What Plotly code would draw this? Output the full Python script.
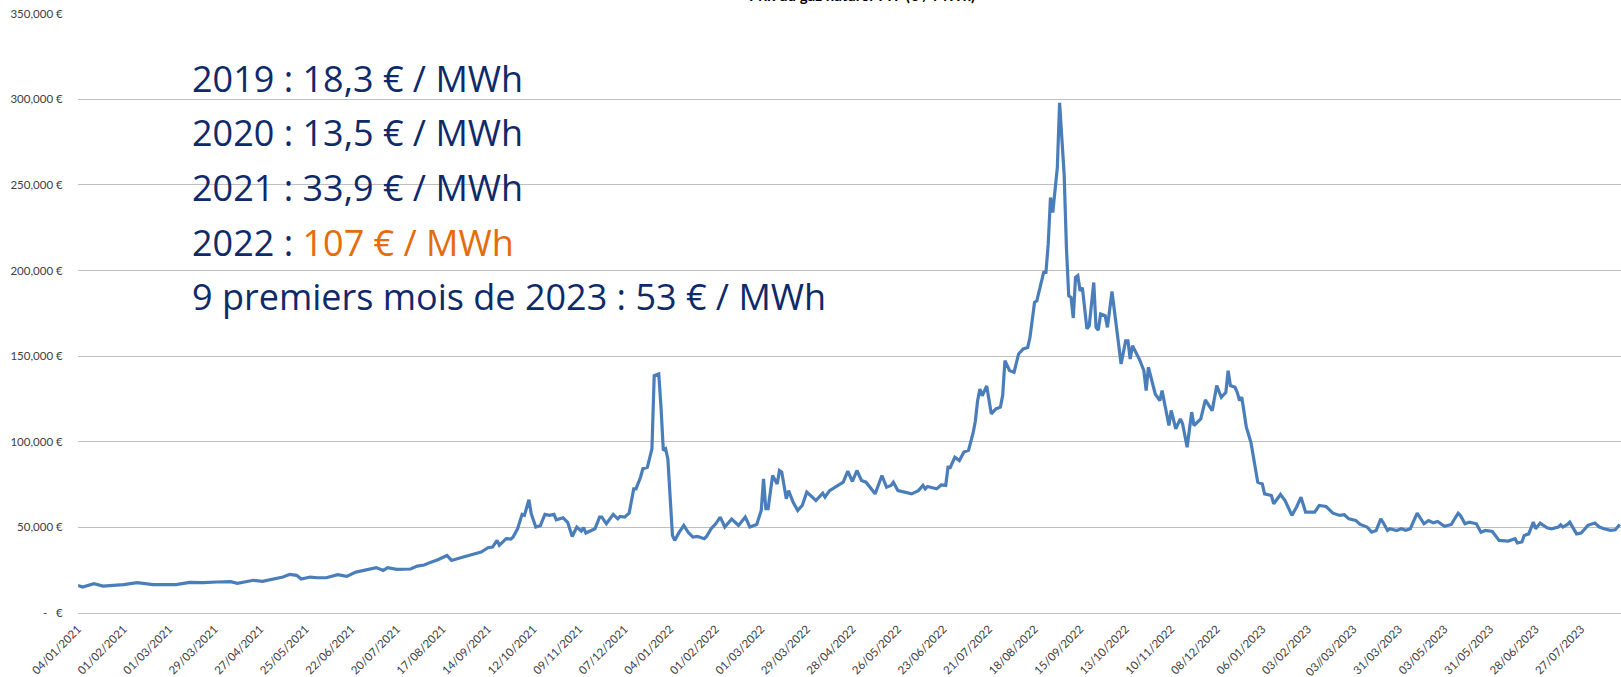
import plotly.graph_objects as go

# Trading-day index (one category per quoted day) and price (k€)
day = [0, 2, 7, 11, 20, 26, 33, 43, 49, 55, 61, 67, 70, 77, 81, 86, 90, 93, 96, 98,
       102, 105, 109, 114, 118, 122, 128, 131, 134, 136, 140, 146, 149, 152, 155, 158,
       162, 164, 168, 172, 177, 180, 182, 184, 185, 188, 190, 191, 193, 195, 196, 198,
       199, 201, 203, 205, 207, 209, 210, 213, 215, 217, 219, 221, 222, 223, 226, 227,
       229, 230, 232, 235, 237, 238, 240, 242, 244, 245, 247, 248, 250, 251, 252, 253,
       255, 256, 257, 258, 259, 261, 262, 264, 266, 268, 270, 272, 275, 276, 278, 280,
       282, 284, 287, 290, 293, 295, 298, 300, 301, 302, 303, 305, 307, 308, 309, 311,
       312, 314, 316, 318, 320, 324, 327, 328, 330, 336, 338, 340, 342, 344, 346, 350,
       353, 355, 357, 358, 360, 363, 366, 369, 371, 372, 373, 377, 379, 381, 382, 383,
       385, 387, 389, 391, 392, 393, 394, 395, 396, 397, 399, 401, 403, 405, 406, 407,
       409, 411, 413, 415, 417, 418, 420, 421, 424, 425, 426, 427, 428, 430, 431, 433,
       434, 435, 436, 437, 438, 439, 440, 441, 443, 444, 446, 447, 448, 449, 451, 452,
       454, 456, 458, 460, 461, 462, 463, 466, 468, 469, 470, 473, 475, 476, 479, 480,
       482, 484, 485, 487, 489, 490, 493, 495, 498, 500, 502, 504, 505, 506, 508, 509,
       510, 511, 513, 515, 517, 518, 520, 521, 524, 525, 528, 530, 531, 533, 535, 537,
       539, 543, 545, 548, 551, 554, 556, 558, 561, 563, 566, 568, 570, 572, 573, 575,
       576, 579, 581, 583, 585, 588, 591, 593, 595, 597, 600, 603, 604, 606, 607, 609,
       611, 614, 616, 618, 621, 624, 628, 629, 631, 632, 634, 635, 637, 639, 640, 642,
       645, 647, 650, 651, 652, 654, 655, 658, 660, 663, 666, 668, 670, 673, 675, 677]

price_k = [16.1, 15.2, 17.1, 15.7, 16.6, 17.7, 16.6, 16.6, 17.9, 17.7, 18.1, 18.3, 17.3, 19.1, 18.5, 20.0, 21.0, 22.6, 22.0, 19.8,
           21.0, 20.6, 20.6, 22.4, 21.4, 23.9, 25.9, 26.5, 24.9, 26.5, 25.5, 25.7, 27.4, 28.0, 29.7, 31.1,
           33.6, 30.7, 32.3, 33.6, 35.6, 38.1, 38.5, 42.4, 39.5, 43.4, 43.2, 44.3, 49.2, 57.6, 57.0, 66.1,
           58.0, 50.2, 51.0, 57.6, 57.0, 57.6, 54.4, 55.6, 53.0, 44.7, 50.2, 47.8, 49.8, 46.7, 48.3, 49.2,
           56.0, 56.0, 52.1, 57.6, 55.0, 56.4, 56.0, 58.3, 72.5, 72.5, 79.3, 84.2, 85.1, 91.0, 95.9, 138.6,
           139.6, 120.0, 94.9, 95.9, 90.0, 45.3, 42.4, 47.2, 51.1, 47.0, 44.3, 44.7, 43.4, 44.7, 49.2, 52.1,
           56.0, 50.2, 54.9, 51.1, 56.0, 50.2, 51.7, 59.9, 78.4, 60.9, 60.9, 80.3, 75.4, 83.2, 82.3, 66.7,
           71.5, 64.7, 59.9, 62.8, 70.6, 65.7, 70.0, 67.7, 71.5, 76.4, 82.8, 76.8, 83.2, 77.4, 76.4, 69.6,
           80.3, 73.5, 74.5, 76.4, 71.5, 70.6, 69.6, 71.5, 74.5, 72.5, 73.9, 72.5, 74.8, 74.5, 85.1, 85.0,
           91.0, 89.0, 94.0, 95.0, 100.0, 105.0, 112.0, 124.0, 130.8, 126.9, 132.6, 116.3, 119.2, 120.2, 127.0, 147.4,
           141.6, 140.6, 151.3, 154.2, 155.1, 161.0, 181.4, 182.3, 198.9, 198.9, 215.4, 242.6, 233.9, 260.1, 298.0, 256.2,
           213.4, 185.3, 184.3, 172.3, 196.0, 197.0, 188.1, 190.0, 165.9, 167.7, 193.0, 166.8, 165.2, 174.6, 173.6, 166.8,
           187.8, 166.8, 145.4, 159.0, 159.0, 148.3, 156.1, 148.3, 141.6, 129.9, 143.5, 127.9, 124.0, 129.9, 109.5, 118.3,
           107.6, 113.4, 110.5, 96.8, 117.3, 109.5, 113.4, 124.4, 118.2, 132.8, 126.0, 128.9, 141.5, 132.8, 131.8, 128.9,
           124.0, 126.0, 108.5, 99.7, 85.1, 76.4, 75.4, 69.6, 68.6, 63.8, 69.2, 65.7, 62.8, 57.0, 61.8, 67.6,
           58.9, 58.9, 62.8, 62.2, 58.3, 57.0, 57.4, 55.0, 54.1, 51.7, 50.2, 47.2, 48.2, 55.0, 53.0, 48.2,
           49.2, 48.2, 49.2, 48.3, 49.2, 58.3, 52.1, 54.0, 52.7, 53.5, 50.6, 51.7, 54.0, 58.3, 57.0, 52.1,
           53.1, 52.1, 47.2, 48.2, 47.6, 42.4, 42.0, 42.4, 43.4, 40.9, 41.5, 45.3, 46.2, 53.1, 49.2, 52.5,
           49.8, 49.2, 50.2, 51.5, 50.2, 51.7, 53.1, 46.2, 46.7, 51.2, 52.5, 50.2, 49.2, 48.3, 48.6, 51.7]

price = [v * 1000 for v in price_k]

date_labels = ["04/01/2021", "01/02/2021", "01/03/2021", "29/03/2021", "27/04/2021", "25/05/2021",
               "22/06/2021", "20/07/2021", "17/08/2021", "14/09/2021", "12/10/2021", "09/11/2021",
               "07/12/2021", "04/01/2022", "01/02/2022", "01/03/2022", "29/03/2022", "28/04/2022",
               "26/05/2022", "23/06/2022", "21/07/2022", "18/08/2022", "15/09/2022", "13/10/2022",
               "10/11/2022", "08/12/2022", "06/01/2023", "03/02/2023", "03//03/2023", "31/03/2023",
               "03/05/2023", "31/05/2023", "28/06/2023", "27/07/2023"]
label_step = 20  # one label every 20 quoted days

y_ticks = [0, 50000, 100000, 150000, 200000, 250000, 300000, 350000]
y_labels = ["-   €", "50,000 €", "100,000 €", "150,000 €", "200,000 €", "250,000 €", "300,000 €", "350,000 €"]

notes = ["2019 : 18,3 € / MWh",
         "2020 : 13,5 € / MWh",
         "2021 : 33,9 € / MWh",
         "2022 : <span style='color:#E46C0A'>107 € / MWh</span>",
         "9 premiers mois de 2023 : 53 € / MWh"]

fig = go.Figure()
fig.add_trace(go.Scatter(x=day, y=price, mode="lines",
                         line=dict(color="#4A7EBB", width=3.2), hoverinfo="skip"))

W, H = 1621, 677
ml, mr, mt, mb = 78, 0, 13, 64
pw, ph = W - ml - mr, H - mt - mb

fig.update_layout(
    width=W, height=H,
    margin=dict(l=ml, r=mr, t=mt, b=mb, autoexpand=False),
    paper_bgcolor="white", plot_bgcolor="white",
    showlegend=False,
    font=dict(family="Lato, Open Sans, sans-serif", color="#404040"),
)
fig.update_xaxes(
    range=[0, 677.5], automargin=False,
    tickvals=[i * label_step for i in range(len(date_labels))],
    ticktext=date_labels,
    tickangle=-45,
    tickfont=dict(size=11.5, color="#404040"),
    showgrid=False, zeroline=False,
    showline=True, linecolor="#BFBFBF", linewidth=1,
    ticks="outside", ticklen=4, tickcolor="rgba(0,0,0,0)",
)
fig.update_yaxes(
    range=[0, 350400], automargin=False,
    tickvals=y_ticks, ticktext=y_labels,
    tickfont=dict(size=11.5, color="#404040"),
    showgrid=True, gridcolor="#BFBFBF", gridwidth=1,
    zeroline=False, showline=False,
    ticks="outside", ticklen=12, tickcolor="rgba(0,0,0,0)",
)

# Big text block
line_y_px = [79, 133, 187, 242, 296]
for txt, ypx in zip(notes, line_y_px):
    fig.add_annotation(text=txt, xref="paper", yref="paper",
                       x=(190 - ml) / pw, y=(mt + ph - ypx) / ph,
                       xanchor="left", yanchor="middle", showarrow=False,
                       font=dict(family="Open Sans, sans-serif", size=36, color="#0E2A6A"))

# Title, cut by the top edge of the picture
fig.add_annotation(text="<b>Prix du gaz naturel TTF (€ / MWh)</b>", xref="paper", yref="paper",
                   x=(862 - ml) / pw, y=(mt + ph - 6) / ph,
                   xanchor="center", yanchor="bottom", showarrow=False,
                   font=dict(family="Lato, sans-serif", size=15, color="#000000"))

fig.write_html("out.html", config={"displayModeBar": False},
               post_script="document.body.style.margin='0';document.body.style.overflow='hidden';")
